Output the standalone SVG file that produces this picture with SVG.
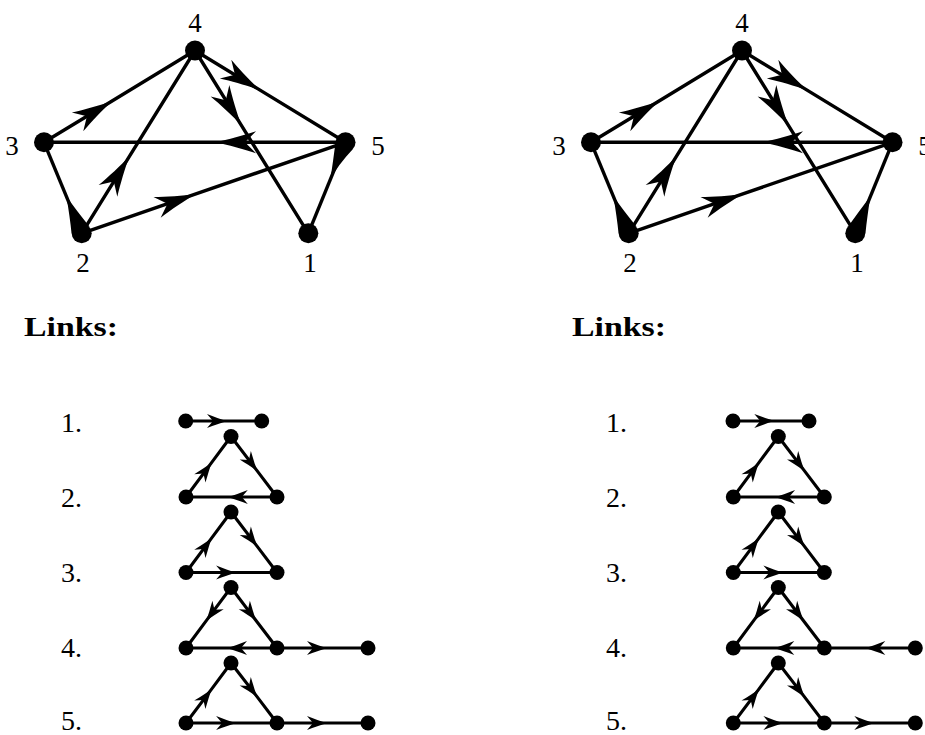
<svg xmlns="http://www.w3.org/2000/svg" width="925" height="735" viewBox="0 0 925 735">
<style>
.e{fill:none;stroke:#000;stroke-width:3.4}
.ea{fill:none;stroke:#000;stroke-width:3.4;marker-mid:url(#ah)}
.la{fill:none;stroke:#000;stroke-width:3.1;marker-mid:url(#as)}
.n{fill:#000}
.w{fill:#000}
.t{font-family:"Liberation Serif","DejaVu Serif",serif;font-size:27px;fill:#000}
.tn{font-family:"Liberation Serif","DejaVu Serif",serif;font-size:28px;fill:#000}
.tb{font-family:"Liberation Serif","DejaVu Serif",serif;font-size:28px;font-weight:bold;fill:#000}
</style>
<defs>
<marker id="ah" markerUnits="userSpaceOnUse" orient="auto" refX="0" refY="0" markerWidth="50" markerHeight="30" viewBox="-42 -15 50 30" overflow="visible">
<path d="M3,0 C-10,-2.5 -26,-7 -38,-11 L-27,0 L-38,11 C-26,7 -10,2.5 3,0 Z" fill="#000"/>
</marker>
<marker id="as" markerUnits="userSpaceOnUse" orient="auto" refX="0" refY="0" markerWidth="30" markerHeight="20" viewBox="-22 -10 30 20" overflow="visible">
<path d="M1.5,0 C-5,-1.5 -12,-4.5 -19,-7 L-13,0 L-19,7 C-12,4.5 -5,1.5 1.5,0 Z" fill="#000"/>
</marker>
</defs>

<!-- Left main graph -->
<g id="graph-left">
<g id="edges-left">
<path class="ea" d="M44,142.3 L110,102.2 L195,50.5"/>
<path class="ea" d="M195,50.5 L258,88.9 L345.5,142.3"/>
<path class="ea" d="M195,50.5 L240,123.1 L308.3,233.3"/>
<path class="ea" d="M345.5,142.3 L218,142.3 L44,142.3"/>
<path class="ea" d="M81.7,233.3 L128,158.6 L195,50.5"/>
<path class="ea" d="M81.7,233.3 L193,194.9 L345.5,142.3"/>
<path class="e" d="M44,142.3 L81.7,233.3"/>
<path class="e" d="M308.3,233.3 L345.5,142.3"/>
<path class="w" d="M66.4,196.3 Q70,218 71.5,233 L89,226 Q76,210 66.4,196.3 Z"/>
<path class="w" d="M330.4,179.3 Q338,165 352.5,149.5 L335.5,142.5 Q333,162 330.4,179.3 Z"/>
</g>
<g id="L-n1"><circle class="n" cx="308.3" cy="233.3" r="10"/><text class="t" x="310" y="272" text-anchor="middle">1</text></g>
<g id="L-n2"><circle class="n" cx="81.7" cy="233.3" r="10"/><text class="t" x="83" y="272" text-anchor="middle">2</text></g>
<g id="L-n3"><circle class="n" cx="44" cy="142.3" r="10"/><text class="t" x="12" y="155" text-anchor="middle">3</text></g>
<g id="L-n4"><circle class="n" cx="195" cy="50.5" r="10"/><text class="t" x="195" y="32" text-anchor="middle">4</text></g>
<g id="L-n5"><circle class="n" cx="345.5" cy="142.3" r="10"/><text class="t" x="378" y="155" text-anchor="middle">5</text></g>
</g>

<!-- Right main graph -->
<g id="graph-right" transform="translate(547,0)">
<g id="edges-right">
<path class="ea" d="M44,142.3 L110,102.2 L195,50.5"/>
<path class="ea" d="M195,50.5 L258,88.9 L345.5,142.3"/>
<path class="ea" d="M195,50.5 L240,123.1 L308.3,233.3"/>
<path class="ea" d="M345.5,142.3 L218,142.3 L44,142.3"/>
<path class="ea" d="M81.7,233.3 L128,158.6 L195,50.5"/>
<path class="ea" d="M81.7,233.3 L193,194.9 L345.5,142.3"/>
<path class="e" d="M44,142.3 L81.7,233.3"/>
<path class="e" d="M345.5,142.3 L308.3,233.3"/>
<path class="w" d="M66.4,196.3 Q70,218 71.5,233 L89,226 Q76,210 66.4,196.3 Z"/>
<path class="w" d="M323.4,196.3 Q313,210 301.5,226 L318.5,233 Q320,218 323.4,196.3 Z"/>
</g>
<g id="R-n1"><circle class="n" cx="308.3" cy="233.3" r="10"/><text class="t" x="310" y="272" text-anchor="middle">1</text></g>
<g id="R-n2"><circle class="n" cx="81.7" cy="233.3" r="10"/><text class="t" x="83" y="272" text-anchor="middle">2</text></g>
<g id="R-n3"><circle class="n" cx="44" cy="142.3" r="10"/><text class="t" x="12" y="155" text-anchor="middle">3</text></g>
<g id="R-n4"><circle class="n" cx="195" cy="50.5" r="10"/><text class="t" x="195" y="32" text-anchor="middle">4</text></g>
<g id="R-n5"><circle class="n" cx="345.5" cy="142.3" r="10"/><text class="t" x="378" y="155" text-anchor="middle">5</text></g>
</g>

<!-- Headings -->
<text class="tb" x="24" y="336" textLength="94" lengthAdjust="spacingAndGlyphs">Links:</text>
<text class="tb" x="572" y="336" textLength="94" lengthAdjust="spacingAndGlyphs">Links:</text>

<g id="L-labels">
<text class="tn" x="61" y="432">1.</text>
<text class="tn" x="61" y="507">2.</text>
<text class="tn" x="61" y="582">3.</text>
<text class="tn" x="61" y="657">4.</text>
<text class="tn" x="61" y="730">5.</text>
</g>
<g id="R-labels">
<text class="tn" x="606" y="432">1.</text>
<text class="tn" x="606" y="507">2.</text>
<text class="tn" x="606" y="582">3.</text>
<text class="tn" x="606" y="657">4.</text>
<text class="tn" x="606" y="730">5.</text>
</g>

<!-- Left links -->
<g id="links-left">
<g id="L-link1">
<path class="la" d="M185.7,421 L226,421 L261.7,421"/>
<circle class="n" cx="185.7" cy="421" r="7.5"/><circle class="n" cx="261.7" cy="421" r="7.5"/>
</g>
<g id="L-link2">
<path class="la" d="M186,497 L211.2,463.1 L231,436.5"/>
<path class="la" d="M231,436.5 L256.8,470.4 L277,497"/>
<path class="la" d="M277,497 L228.8,497 L186,497"/>
<circle class="n" cx="231" cy="436.5" r="7.5"/><circle class="n" cx="186" cy="497" r="7.5"/><circle class="n" cx="277" cy="497" r="7.5"/>
</g>
<g id="L-link3">
<path class="la" d="M186,572.5 L211.2,538.6 L231,512"/>
<path class="la" d="M231,512 L256.8,545.9 L277,572.5"/>
<path class="la" d="M186,572.5 L235.1,572.5 L277,572.5"/>
<circle class="n" cx="231" cy="512" r="7.5"/><circle class="n" cx="186" cy="572.5" r="7.5"/><circle class="n" cx="277" cy="572.5" r="7.5"/>
</g>
<g id="L-link4">
<path class="la" d="M231,587.5 L206.7,620.2 L186,648"/>
<path class="la" d="M231,587.5 L255.8,620.2 L277,648"/>
<path class="la" d="M277,648 L228,648 L186,648"/>
<path class="la" d="M277,648 L326,648 L368,648"/>
<circle class="n" cx="231" cy="587.5" r="7.5"/><circle class="n" cx="186" cy="648" r="7.5"/><circle class="n" cx="277" cy="648" r="7.5"/><circle class="n" cx="368" cy="648" r="7.5"/>
</g>
<g id="L-link5">
<path class="la" d="M186,723 L211.2,689.6 L231,663"/>
<path class="la" d="M231,663 L256.8,696.4 L277,723"/>
<path class="la" d="M186,723 L235.1,723 L277,723"/>
<path class="la" d="M277,723 L326,723 L368,723"/>
<circle class="n" cx="231" cy="663" r="7.5"/><circle class="n" cx="186" cy="723" r="7.5"/><circle class="n" cx="277" cy="723" r="7.5"/><circle class="n" cx="368" cy="723" r="7.5"/>
</g>
</g>

<!-- Right links -->
<g id="links-right" transform="translate(547.3,0)">
<g id="R-link1">
<path class="la" d="M185.7,421 L226,421 L261.7,421"/>
<circle class="n" cx="185.7" cy="421" r="7.5"/><circle class="n" cx="261.7" cy="421" r="7.5"/>
</g>
<g id="R-link2">
<path class="la" d="M186,497 L211.2,463.1 L231,436.5"/>
<path class="la" d="M231,436.5 L256.8,470.4 L277,497"/>
<path class="la" d="M277,497 L228.8,497 L186,497"/>
<circle class="n" cx="231" cy="436.5" r="7.5"/><circle class="n" cx="186" cy="497" r="7.5"/><circle class="n" cx="277" cy="497" r="7.5"/>
</g>
<g id="R-link3">
<path class="la" d="M186,572.5 L211.2,538.6 L231,512"/>
<path class="la" d="M231,512 L256.8,545.9 L277,572.5"/>
<path class="la" d="M186,572.5 L235.1,572.5 L277,572.5"/>
<circle class="n" cx="231" cy="512" r="7.5"/><circle class="n" cx="186" cy="572.5" r="7.5"/><circle class="n" cx="277" cy="572.5" r="7.5"/>
</g>
<g id="R-link4">
<path class="la" d="M231,587.5 L206.7,620.2 L186,648"/>
<path class="la" d="M231,587.5 L255.8,620.2 L277,648"/>
<path class="la" d="M277,648 L228,648 L186,648"/>
<path class="la" d="M368,648 L319,648 L277,648"/>
<circle class="n" cx="231" cy="587.5" r="7.5"/><circle class="n" cx="186" cy="648" r="7.5"/><circle class="n" cx="277" cy="648" r="7.5"/><circle class="n" cx="368" cy="648" r="7.5"/>
</g>
<g id="R-link5">
<path class="la" d="M186,723 L211.2,689.6 L231,663"/>
<path class="la" d="M231,663 L256.8,696.4 L277,723"/>
<path class="la" d="M186,723 L235.1,723 L277,723"/>
<path class="la" d="M277,723 L326,723 L368,723"/>
<circle class="n" cx="231" cy="663" r="7.5"/><circle class="n" cx="186" cy="723" r="7.5"/><circle class="n" cx="277" cy="723" r="7.5"/><circle class="n" cx="368" cy="723" r="7.5"/>
</g>
</g>
</svg>
